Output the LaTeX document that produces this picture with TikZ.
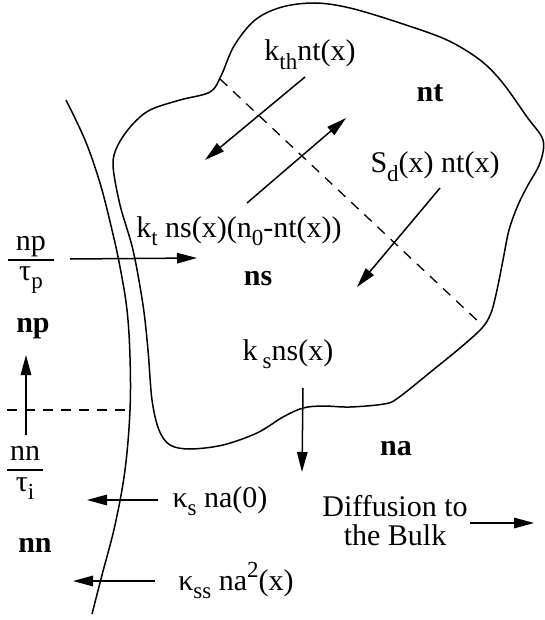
\documentclass[tikz,border=0pt]{standalone}
\usepackage{fontspec}
\setmainfont{Liberation Serif}
\usetikzlibrary{arrows.meta}
\newcommand{\sbs}[1]{\raisebox{-0.27em}{\fontsize{23}{23}\selectfont #1}}
\newcommand{\sps}[1]{\raisebox{0.42em}{\fontsize{23}{23}\selectfont #1}}
\newcommand{\fracstack}[3]{{\setlength{\arrayrulewidth}{1.4pt}\begin{tabular}{@{\hspace{#3}}c@{\hspace{#3}}}#1\\\hline #2\end{tabular}}}
\begin{document}
\begin{tikzpicture}[x=1pt,y=-1pt,line width=1.5pt,
  lbl/.style={inner sep=0pt,font=\fontsize{30}{29}\selectfont},
  bl/.style={inner sep=0pt,font=\fontsize{30}{29}\selectfont\bfseries},
  arr/.style={-{Triangle[length=20pt,width=10.5pt]}},
  dsh/.style={line width=1.3pt,dash pattern=on 10pt off 8pt}]
\useasboundingbox (0,0) rectangle (545,620);

% region (blob)
\draw plot[smooth cycle,tension=0.55] coordinates {
 (180,100) (210,92) (221,76) (234,46) (255,20) (282,7) (315,3) (350,8)
 (400,23) (447,40) (480,60) (502,82) (527,117) (543,140) (540,163)
 (528,185) (518,205) (509,230) (503,260) (497,290) (491,313) (482,328)
 (460,348) (433,370) (398,398) (384,404) (350,407) (323,406) (303,408)
 (283,417) (257,433) (223,445) (190,449) (170,445) (159,430) (152,400)
 (148,350) (143,305) (133,250) (120,205) (113,165) (118,145) (132,125)
 (150,110)};

% outer surface line
\draw plot[smooth,tension=0.6] coordinates {
 (66,100) (85,140) (100,183) (112,230) (120,267) (127,310) (130,357)
 (130,410) (125,470) (115,525) (102,575) (92,614)};

% dashed lines
\coordinate (d1) at (220,79);
\coordinate (d2) at (482,325);
\draw[dsh] (d1) -- (d2);
\coordinate (h1) at (7,410);
\coordinate (h2) at (130,410);
\draw[dsh] (h1) -- (h2);

% labels
\node[lbl,anchor=base] (kth) at (310,61) {k\sbs{th}nt(x)};
\node[bl,anchor=base] (nt) at (430,102) {nt};
\node[lbl,anchor=base] (sd) at (435,173) {S\sbs{d}(x) nt(x)};
\node[lbl,anchor=base] (kt) at (239,237) {k\sbs{t} ns(x)(n\sbs{0}-nt(x))};
\node[bl,anchor=base] (ns) at (258,285) {ns};
\node[lbl] (fp) at (31,262) {\fracstack{np}{τ\sbs{p}}{8pt}};
\node[bl,anchor=base] (np) at (33,332) {np};
\node[lbl] (fn) at (25,470) {\fracstack{nn}{τ\sbs{i}}{3pt}};
\node[bl,anchor=base] (nn) at (35,552) {nn};
\node[lbl,anchor=base] (ks) at (288,360) {k\,\sbs{s}ns(x)};
\node[bl,anchor=base] (na) at (396,455) {na};
\node[lbl,anchor=base] (kas) at (220,507) {κ\sbs{s} na(0)};
\node[lbl,anchor=base,align=center] (dif) at (395,545) {Diffusion to\\the Bulk};
\node[lbl,anchor=base] (kass) at (236,590) {κ\sbs{ss} na\sps{2}(x)};

% arrows
\coordinate (a1s) at (305,77);  \coordinate (a1e) at (205,160);
\draw[arr] (a1s) -- (a1e);
\coordinate (a2s) at (247,203); \coordinate (a2e) at (346,118);
\draw[arr] (a2s) -- (a2e);
\coordinate (a3s) at (440,188); \coordinate (a3e) at (357,287);
\draw[arr] (a3s) -- (a3e);
\coordinate (a4s) at (70,259);  \coordinate (a4e) at (197,258);
\draw[arr] (a4s) -- (a4e);
\coordinate (a5s) at (26,435);  \coordinate (a5e) at (26,355);
\draw[arr] (a5s) -- (a5e);
\coordinate (a6s) at (303,388); \coordinate (a6e) at (302,472);
\draw[arr] (a6s) -- (a6e);
\coordinate (a7s) at (158,500); \coordinate (a7e) at (87,500);
\draw[arr] (a7s) -- (a7e);
\coordinate (a8s) at (155,581); \coordinate (a8e) at (73,581);
\draw[arr] (a8s) -- (a8e);
\coordinate (a9s) at (470,523); \coordinate (a9e) at (534,523);
\draw[arr] (a9s) -- (a9e);
\end{tikzpicture}
\end{document}
